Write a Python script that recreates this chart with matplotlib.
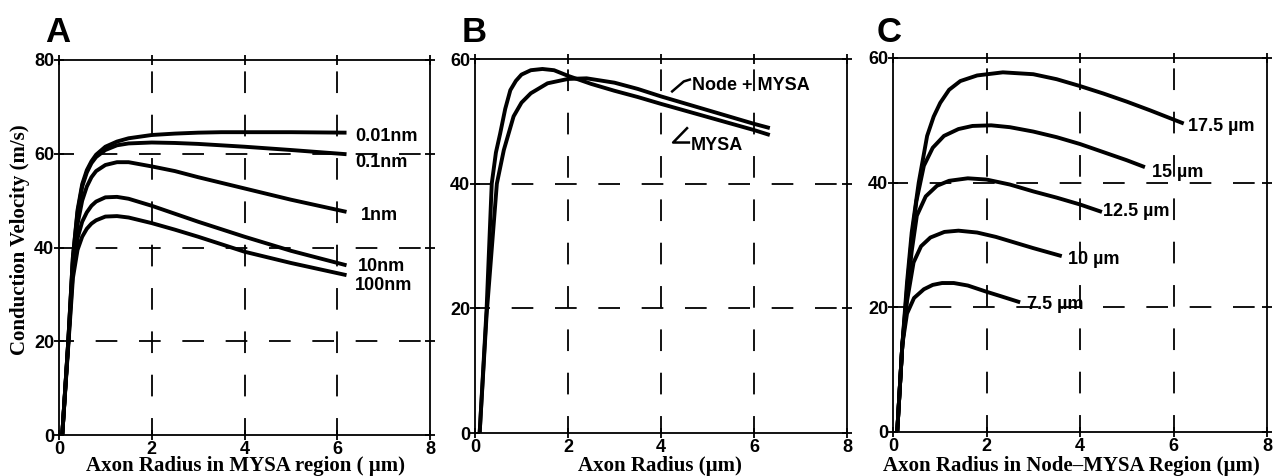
import matplotlib
matplotlib.use('Agg')
import matplotlib.pyplot as plt

# ---------------- data ----------------
# Panel A: conduction velocity vs axon radius in MYSA region, per periaxonal gap
a_x = [0.07, 0.2, 0.3, 0.4, 0.5, 0.6, 0.7, 0.8, 1.0, 1.25, 1.5, 2.0, 2.5, 3.0, 3.5, 4.0, 5.0, 6.2]
a_001nm = [0, 20, 38, 48, 53.5, 56.5, 58.4, 59.8, 61.5, 62.6, 63.3, 64.0, 64.3, 64.5, 64.6, 64.6, 64.6, 64.5]
a_01nm = [0, 20, 38, 47.5, 53, 56, 58.0, 59.3, 60.8, 61.8, 62.2, 62.4, 62.3, 62.1, 61.8, 61.5, 60.8, 59.9]
a_1nm = [0, 20, 37, 45, 50, 53, 55.0, 56.3, 57.6, 58.2, 58.2, 57.3, 56.3, 55.0, 53.8, 52.6, 50.2, 47.6]
a_10nm = [0, 19.5, 35, 42, 45.5, 47.5, 48.9, 49.8, 50.7, 50.8, 50.4, 48.9, 47.2, 45.5, 43.9, 42.3, 39.3, 36.2]
a_100nm = [0, 19, 33.5, 39.5, 42.3, 44, 45.1, 45.8, 46.6, 46.7, 46.4, 45.2, 43.8, 42.3, 40.7, 39.1, 36.7, 34.1]
a_labels = ['0.01nm', '0.1nm', '1nm', '10nm', '100nm']

# Panel B
b_mysa_x = [0.1, 0.25, 0.36, 0.45, 0.54, 0.65, 0.76, 0.88, 1.0, 1.2, 1.45, 1.7, 2.0, 2.5, 3.0, 3.5, 4.0, 5.0, 6.0, 6.3]
b_mysa_y = [0, 20, 40, 45, 48, 52, 55, 56.5, 57.5, 58.2, 58.4, 58.2, 57.3, 56.0, 54.9, 53.9, 52.8, 50.7, 48.6, 47.9]
b_node_x = [0.1, 0.25, 0.47, 0.62, 0.83, 1.0, 1.2, 1.56, 2.0, 2.4, 3.0, 3.5, 4.0, 5.0, 6.0, 6.3]
b_node_y = [0, 19, 40, 45.4, 50.8, 53.0, 54.5, 56.1, 56.8, 56.9, 56.2, 55.2, 54.0, 51.8, 49.6, 49.0]
b_labels = ['Node + MYSA', 'MYSA']

# Panel C: per internode-related length
c_75_x = [0.09, 0.2, 0.3, 0.45, 0.66, 0.85, 1.05, 1.3, 1.6, 2.0, 2.3, 2.68]
c_75_y = [0, 14, 19, 21.5, 22.9, 23.6, 23.9, 23.9, 23.5, 22.5, 21.8, 20.9]
c_10_x = [0.09, 0.2, 0.3, 0.44, 0.6, 0.8, 1.1, 1.4, 1.8, 2.2, 2.6, 3.0, 3.57]
c_10_y = [0, 14, 21, 27.2, 29.8, 31.2, 32.1, 32.3, 32.0, 31.3, 30.4, 29.5, 28.3]
c_125_x = [0.09, 0.2, 0.3, 0.4, 0.51, 0.7, 0.94, 1.2, 1.6, 2.0, 2.5, 3.0, 3.5, 4.0, 4.43]
c_125_y = [0, 14, 22, 29, 34.7, 37.8, 39.5, 40.3, 40.7, 40.5, 39.7, 38.6, 37.6, 36.5, 35.4]
c_15_x = [0.09, 0.2, 0.3, 0.4, 0.5, 0.66, 0.85, 1.09, 1.4, 1.7, 2.1, 2.5, 3.0, 3.5, 4.0, 4.5, 5.0, 5.35]
c_15_y = [0, 14, 23, 31, 37, 42.7, 45.6, 47.5, 48.6, 49.1, 49.2, 48.9, 48.2, 47.3, 46.2, 44.9, 43.6, 42.6]
c_175_x = [0.09, 0.2, 0.3, 0.4, 0.55, 0.73, 0.87, 1.01, 1.2, 1.44, 1.8, 2.35, 3.0, 3.5, 4.0, 4.5, 5.0, 5.5, 6.18]
c_175_y = [0, 14, 24, 32, 40, 47.5, 50.6, 52.8, 54.9, 56.3, 57.2, 57.7, 57.4, 56.6, 55.5, 54.3, 53.0, 51.6, 49.6]
c_labels = ['7.5 µm', '10 µm', '12.5 µm', '15 µm', '17.5 µm']

x_ticks = [0, 2, 4, 6, 8]
a_yticks = [0, 20, 40, 60, 80]
bc_yticks = [0, 20, 40, 60]

# ---------------- style ----------------
plt.rcParams['font.family'] = ['Liberation Sans', 'DejaVu Sans']
plt.rcParams['font.weight'] = 'bold'
plt.rcParams['lines.scale_dashes'] = False
plt.rcParams['lines.solid_joinstyle'] = 'round'

W, H = 1276, 476
fig = plt.figure(figsize=(W / 100, H / 100), dpi=100)
axA = fig.add_axes([59 / W, 41 / H, 371 / W, 375 / H])
axB = fig.add_axes([475 / W, 43 / H, 372 / W, 374 / H])
axC = fig.add_axes([893 / W, 44 / H, 374 / W, 374 / H])

DASH_H = (4.8, (15.6, 15.6))
DASH_V = (3.4, (15.6, 15.6))


def style(ax, ymax, yticks, hgrid):
    ax.set_xlim(0, 8)
    ax.set_ylim(0, ymax)
    ax.set_xticks(x_ticks)
    ax.set_yticks(yticks)
    ax.tick_params(direction='inout', length=7, width=1.3, top=True, right=True,
                   labelsize=13, pad=0, colors='black')
    ax.tick_params(axis='x', pad=1.0)
    for s in ax.spines.values():
        s.set_linewidth(1.3)
    for y in hgrid:
        ax.axhline(y, color='black', lw=1.3, ls=DASH_H, zorder=1)
    for x in [2, 4, 6]:
        ax.axvline(x, color='black', lw=1.3, ls=DASH_V, zorder=1)


LW = 2.8
style(axA, 80, a_yticks, [20, 40, 60])
for ys in [a_001nm, a_01nm, a_1nm, a_10nm, a_100nm]:
    axA.plot(a_x, ys, color='black', lw=LW, solid_capstyle='butt', zorder=3)
a_lab_pos = [(6.38, 63.7), (6.38, 58.1), (6.52, 46.9), (6.45, 35.9), (6.38, 31.8)]
for lab, (lx, ly) in zip(a_labels, a_lab_pos):
    axA.text(lx, ly, lab, fontsize=13, fontweight='bold', ha='left', va='center', zorder=4)

style(axB, 60, bc_yticks, [20, 40])
axB.plot(b_mysa_x, b_mysa_y, color='black', lw=LW, zorder=3)
axB.plot(b_node_x, b_node_y, color='black', lw=LW, zorder=3)
axB.text(4.67, 55.7, b_labels[0], fontsize=13, fontweight='bold', ha='left', va='center')
axB.text(4.63, 46.1, b_labels[1], fontsize=13, fontweight='bold', ha='left', va='center')
axB.plot([4.24, 4.49, 4.62], [54.8, 56.4, 56.7], color='black', lw=1.8)
axB.plot([4.56, 4.26, 4.6], [48.9, 46.6, 46.6], color='black', lw=1.8)

style(axC, 60, bc_yticks, [20, 40])
c_series = [(c_75_x, c_75_y), (c_10_x, c_10_y), (c_125_x, c_125_y), (c_15_x, c_15_y), (c_175_x, c_175_y)]
for xs, ys in c_series:
    axC.plot(xs, ys, color='black', lw=LW, zorder=3)
c_lab_pos = [(2.86, 20.4), (3.75, 27.6), (4.5, 35.3), (5.53, 41.7), (6.31, 49.0)]
for lab, (lx, ly) in zip(c_labels, c_lab_pos):
    axC.text(lx, ly, lab, fontsize=13, fontweight='bold', ha='left', va='center', zorder=4)

# axis labels
serif = dict(family=['Liberation Serif', 'DejaVu Serif'], fontweight='bold', fontsize=15)
fig.text(245 / W, 5 / H, 'Axon Radius in MYSA region ( µm)', ha='center', va='baseline', **serif)
fig.text(660 / W, 5 / H, 'Axon Radius (µm)', ha='center', va='baseline', **serif)
fig.text(1071 / W, 5 / H, 'Axon Radius in Node–MYSA Region (µm)', ha='center', va='baseline', **serif)
fig.text(20 / W, 1 - 240 / H, 'Conduction Velocity (m/s)', rotation=90, ha='center', va='center', **serif)

# panel letters
for letter, px in [('A', 45), ('B', 462), ('C', 877)]:
    fig.text(px / W, 1 - 42 / H, letter, fontsize=25, fontweight='bold', ha='left', va='baseline')

fig.savefig('out.png', dpi=100)
